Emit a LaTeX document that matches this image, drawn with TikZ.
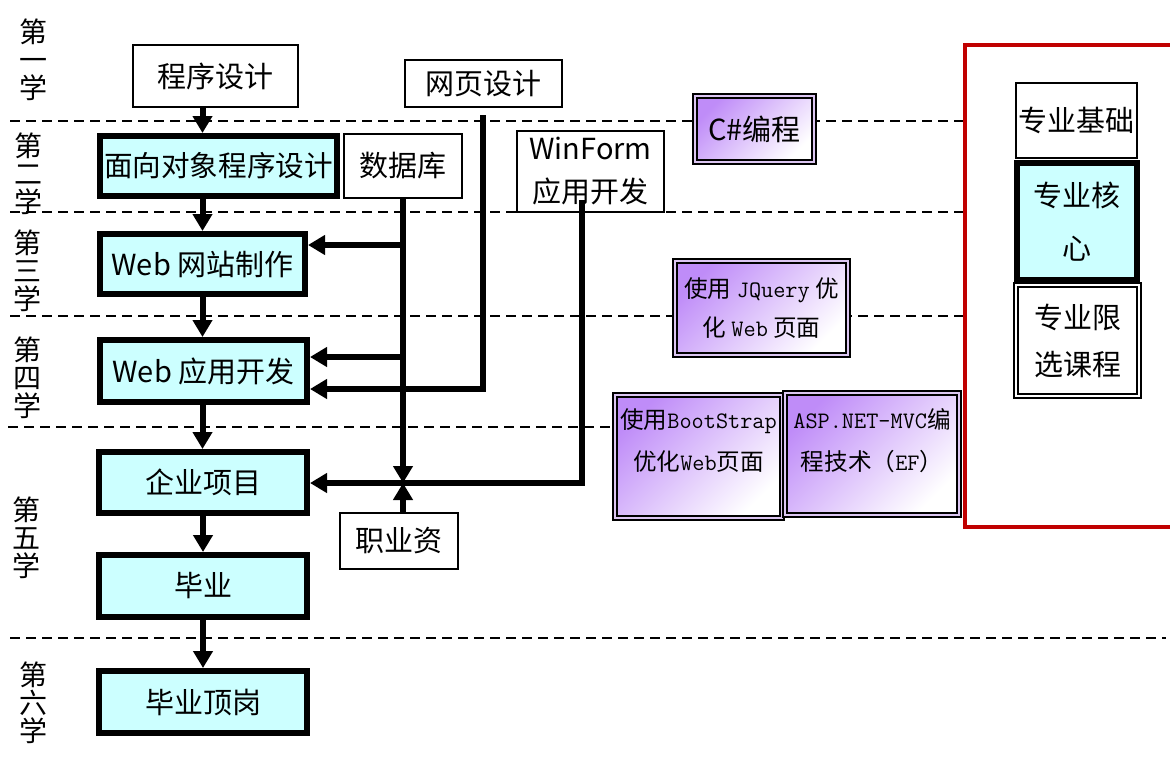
\documentclass[tikz,border=0pt]{standalone}
\usepackage{fontspec}
\setmainfont{Noto Sans CJK SC}
\usetikzlibrary{arrows.meta,calc}
\definecolor{cyanf}{HTML}{CCFFFF}
\definecolor{purp}{HTML}{BF8CF8}
\definecolor{band}{HTML}{DCC6F2}
\definecolor{redb}{HTML}{C00000}
\begin{document}
\begin{tikzpicture}[x=0.5pt,y=-0.5pt,
 core/.style={draw, line width=3pt, fill=cyanf, inner sep=0pt, align=center, font=\fontsize{14.5}{18}\selectfont},
 plainbox/.style={draw, line width=1pt, fill=white, inner sep=0pt, align=center, font=\fontsize{14.5}{21.5}\selectfont},
 purpbox/.style={draw, line width=1pt, double=band, double distance=1pt, top color=purp, bottom color=white, shading angle=45, inner sep=0pt, align=center},
 sz/.style 2 args={minimum width=#1*0.5pt, minimum height=#2*0.5pt},
 flow/.style={line width=3pt, -{Triangle[width=9.5pt,length=8.5pt]}},
 sepline/.style={line width=1pt, dash pattern=on 5pt off 3pt},
 year/.style={align=center, font=\fontsize{14}{14}\selectfont, inner sep=0pt},
 small/.style={align=center, font=\fontsize{11.8}{21}\selectfont, inner sep=0pt}
]
\useasboundingbox (0,0) rectangle (1170,760);
% semester separators
\draw[sepline] (10,121) -- (963,121);
\draw[sepline] (10,212) -- (963,212);
\draw[sepline] (10,316) -- (963,316);
\draw[sepline] (8,427) -- (612,427);
\draw[sepline] (10,638) -- (1166,638);
% year labels
\node[year] (y1) at (33,60) {第\\一\\学};
\node[year] (y2) at (28,174) {第\\二\\学};
\node[year] (y3) at (27,271) {第\\三\\学};
\node[year] (y4) at (27,378) {第\\四\\学};
\node[year] (y5) at (26,538) {第\\五\\学};
\node[year] (y6) at (33,703) {第\\六\\学};
% red frame
\draw[redb, line width=2pt] (1172,45) -- (965,45) -- (965,527) -- (1172,527);
% white boxes
\node[plainbox, sz={165}{62}] (cx) at (215.5,76) {程序设计};
\node[plainbox, sz={157}{47}] (wy) at (483,83.5) {网页设计};
\node[plainbox, sz={118}{64}] (sjk) at (403,166) {数据库};
\node[plainbox, sz={147}{81}] (wf) at (590.5,171.5) {WinForm\\应用开发};
\node[plainbox, sz={118}{56}] (zy) at (399,541) {职业资};
% core boxes
\node[core, sz={237}{60}, font=\fontsize{14.3}{18}\selectfont] (ood) at (218.5,166) {面向对象程序设计};
\node[core, sz={205}{60}] (web1) at (202.5,264) {Web 网站制作};
\node[core, sz={207}{62}] (web2) at (203.5,371) {Web 应用开发};
\node[core, sz={208}{61}] (qy) at (203,482.5) {企业项目};
\node[core, sz={208}{62}] (by) at (203,586) {毕业};
\node[core, sz={208}{62}] (dg) at (203,702) {毕业顶岗};
% purple boxes
\node[purpbox, sz={119}{66}, font=\fontsize{14.5}{18}\selectfont] (cs) at (754.5,129) {C\#编程};
\node[purpbox, sz={173}{94}, small, font=\fontsize{11.8}{19.5}\selectfont] (jq) at (761.5,308) {使用 {\ttfamily JQuery} 优\\化 {\ttfamily Web} 页面};
\node[purpbox, sz={167}{123}] (bs) at (698.5,456.5) {};
\node[small] (bst) at (698.5,441) {使用{\ttfamily BootStrap}\\优化{\ttfamily Web}页面};
\node[purpbox, sz={174}{122}] (asp) at (872,454) {};
\node[small] (aspt) at (872,441) {{\ttfamily ASP.NET-MVC}编\\程技术（{\ttfamily EF}）};
% right legend
\node[plainbox, sz={121}{75}, font=\fontsize{14.5}{18}\selectfont] (jc) at (1076.5,120) {专业基础};
\node[core, sz={120}{117}, font=\fontsize{14.5}{26.5}\selectfont] (hx) at (1077,221.5) {专业核\\心};
\node[draw, line width=0.8pt, double=white, double distance=1.2pt, fill=white, sz={123}{111}, inner sep=0pt, align=center, font=\fontsize{14.5}{23.5}\selectfont] (xx) at (1077.5,340.5) {专业限\\选课程};
% coordinates for connectors
\coordinate (j) at (403,483);
\coordinate (b1) at (403,245);
\coordinate (b2) at (403,357);
\coordinate (wyt) at (483,115);
\coordinate (wyb) at (483,389);
\coordinate (wft) at (582,200);
\coordinate (wfb) at (582,483);
% main flow
\draw[flow] (cx.south -| web1.north) -- (ood.north -| web1.north);
\draw[flow] (ood.south -| web1.north) -- (web1.north);
\draw[flow] (web1.south) -- (web1.south |- web2.north);
\draw[flow] (web2.south -| web1.south) -- (qy.north -| web1.south);
\draw[flow] (qy.south) -- (by.north);
\draw[flow] (by.south) -- (dg.north);
% side inputs
\draw[flow] (sjk.south) -- (j);
\draw[flow] (b1) -- (web1.east |- b1);
\draw[flow] (b2) -- (web2.east |- b2);
\draw[flow] (wyt) -- (wyb) -- (web2.east |- wyb);
\draw[flow] (wft) -- (wfb) -- (qy.east |- wfb);
\draw[flow] (zy.north -| j) -- (j);
\end{tikzpicture}
\end{document}
